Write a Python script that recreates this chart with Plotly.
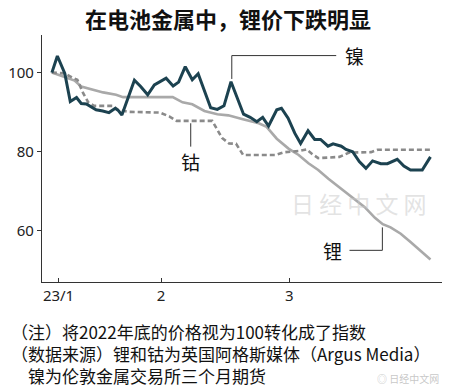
import plotly.graph_objects as go

# x = days relative to the "23/1" tick
nickel_x = [-1.7, -0.3, 1.6, 3.0, 4.6, 5.8, 7.1, 8.4, 9.6, 11.3, 12.9, 14.5, 15.3, 16.2,
            19.4, 21.0, 22.8, 24.5, 27.5, 29.3, 30.7, 32.4, 34.2, 35.7, 38.9, 40.6, 42.3,
            44.1, 47.3, 49.0, 50.7, 52.2, 53.7, 55.8, 57.0, 58.7, 60.4, 61.9, 63.8, 65.5,
            67.0, 68.9, 70.2, 72.3, 73.5, 75.2, 76.9, 78.6, 80.3, 82.4, 84.1, 86.6, 88.3,
            90.0, 93.0, 95.1]
nickel_y = [100, 104.2, 99.8, 92.7, 93.7, 92.2, 92.1, 91.4, 90.6, 90.3, 89.9, 91.0, 90.4, 89.3,
            98.1, 96.5, 94.4, 96.9, 98.6, 96.6, 97.6, 101.5, 98.2, 99.7, 91.1, 90.7, 91.6,
            97.7, 89.5, 88.7, 87.6, 88.7, 86.5, 90.6, 91.0, 88.5, 84.7, 82.1, 85.3, 83.1,
            83.1, 81.4, 82.0, 81.4, 80.6, 80.0, 77.5, 75.8, 77.7, 77.0, 77.0, 78.1, 76.4,
            75.4, 75.4, 78.7]

lithium_x = [-1.7, 1.5, 4.1, 5.8, 8.4, 11.4, 14.7, 16.5, 29.2, 31.7, 34.2, 37.3, 40.6, 43.4,
             46.9, 51.2, 53.2, 55.8, 58.8, 61.4, 63.9, 66.4, 69.0, 72.3, 75.1, 78.3, 80.9,
             82.9, 84.9, 87.5, 90.0, 92.5, 95.1]
lithium_y = [100, 99.0, 98.0, 96.5, 95.8, 95.0, 94.4, 93.8, 93.8, 92.5, 92.0, 90.3, 89.5, 89.2,
             88.3, 87.2, 86.3, 83.3, 80.8, 79.2, 77.1, 75.4, 73.2, 70.7, 68.6, 66.0, 63.3,
             61.7, 60.9, 59.3, 57.2, 55.1, 52.8]

cobalt_x = [-1.7, 1.5, 3.8, 4.8, 6.3, 7.6, 9.1, 13.9, 15.2, 17.7, 25.9, 28.4, 30.2, 39.3,
            41.8, 43.6, 45.4, 47.2, 55.5, 57.8, 61.4, 63.4, 64.9, 66.4, 71.8, 74.3, 79.9,
            81.6, 95.1]
cobalt_y = [100, 99.8, 98.6, 98.2, 94.8, 92.5, 91.6, 91.6, 90.6, 90.1, 89.9, 88.9, 87.8, 87.8,
            83.5, 82.1, 82.0, 79.2, 79.2, 79.9, 80.2, 80.6, 79.4, 78.4, 78.7, 79.8, 79.9,
            80.5, 80.5]

tick_vals = [0, 26.2, 59]
tick_text = ["23/1", "2", "3"]
y_ticks = [60, 80, 100]

title = "在电池金属中，锂价下跌明显"
notes = ["（注）将2022年底的价格视为100转化成了指数",
         "（数据来源）锂和钴为英国阿格斯媒体（Argus Media）",
         "\u3000镍为伦敦金属交易所三个月期货"]

CJK = "Noto Sans CJK SC"

fig = go.Figure()
fig.add_trace(go.Scatter(x=lithium_x, y=lithium_y, mode="lines",
                         line=dict(color="#a9a9a9", width=2.6), name="锂"))
fig.add_trace(go.Scatter(x=cobalt_x, y=cobalt_y, mode="lines",
                         line=dict(color="#8a8a8a", width=2.6, dash="5px,3px"), name="钴"))
fig.add_trace(go.Scatter(x=nickel_x, y=nickel_y, mode="lines",
                         line=dict(color="#1c4250", width=3), name="镍"))

# leader lines
line_style = dict(color="#333333", width=1)
fig.add_shape(type="line", x0=44.3, x1=71.0, y0=104.3, y1=104.3, line=line_style)
fig.add_shape(type="line", x0=44.3, x1=44.3, y0=104.3, y1=98.4, line=line_style)
fig.add_shape(type="line", x0=33.8, x1=33.8, y0=87.2, y1=81.3, line=line_style)
fig.add_shape(type="line", x0=74.4, x1=82.8, y0=55.1, y1=55.1, line=line_style)
fig.add_shape(type="line", x0=82.8, x1=82.8, y0=55.1, y1=60.9, line=line_style)

fig.add_annotation(x=75.6, y=104.4, text="镍", showarrow=False,
                   font=dict(family=CJK, size=19, color="#111"))
fig.add_annotation(x=33.8, y=77.6, text="钴", showarrow=False,
                   font=dict(family=CJK, size=19, color="#111"))
fig.add_annotation(x=70.0, y=55.1, text="锂", showarrow=False,
                   font=dict(family=CJK, size=19, color="#111"))

# watermarks
fig.add_annotation(x=76.7, y=67.0, text="日 经 中 文 网", showarrow=False,
                   font=dict(family=CJK, size=23, color="rgba(200,200,200,0.5)"))
fig.add_annotation(xref="paper", yref="paper", x=0.914, y=-0.390, xanchor="center",
                   yanchor="middle", text="◎ 日经中文网", showarrow=False,
                   font=dict(family=CJK, size=10, color="rgba(185,185,185,0.8)"))

fig.add_annotation(xref="paper", yref="paper", x=0.465, y=1.069, xanchor="center",
                   yanchor="middle", text="<b>" + title + "</b>",
                   showarrow=False, font=dict(family=CJK, size=22, color="#111"))
fig.add_annotation(xref="paper", yref="paper", x=-0.080, y=-0.290,
                   xanchor="left", yanchor="middle", align="left",
                   text="<br>".join(notes), showarrow=False, borderpad=0,
                   font=dict(family=CJK, size=17, color="#111"))

fig.update_layout(
    width=450, height=389,
    margin=dict(l=38, r=8, t=35, b=107),
    paper_bgcolor="white", plot_bgcolor="white",
    showlegend=False,
    xaxis=dict(range=[-4.23, 98.05], tickvals=tick_vals, ticktext=tick_text,
               showline=True, linecolor="#333", linewidth=1.2, ticks="inside",
               ticklen=4, tickcolor="#333", showgrid=False, zeroline=False,
               tickfont=dict(family="Noto Sans", size=15, color="#222")),
    yaxis=dict(range=[47.1, 109.5], tickvals=y_ticks,
               showline=True, linecolor="#333", linewidth=1.2, ticks="outside",
               ticklen=4, tickcolor="#333", showgrid=False, zeroline=False,
               tickfont=dict(family="Noto Sans", size=15, color="#222")),
)

fig.write_html("out.html", config={"displayModeBar": False},
               post_script="document.body.style.margin='0px';document.body.style.overflow='hidden';")
